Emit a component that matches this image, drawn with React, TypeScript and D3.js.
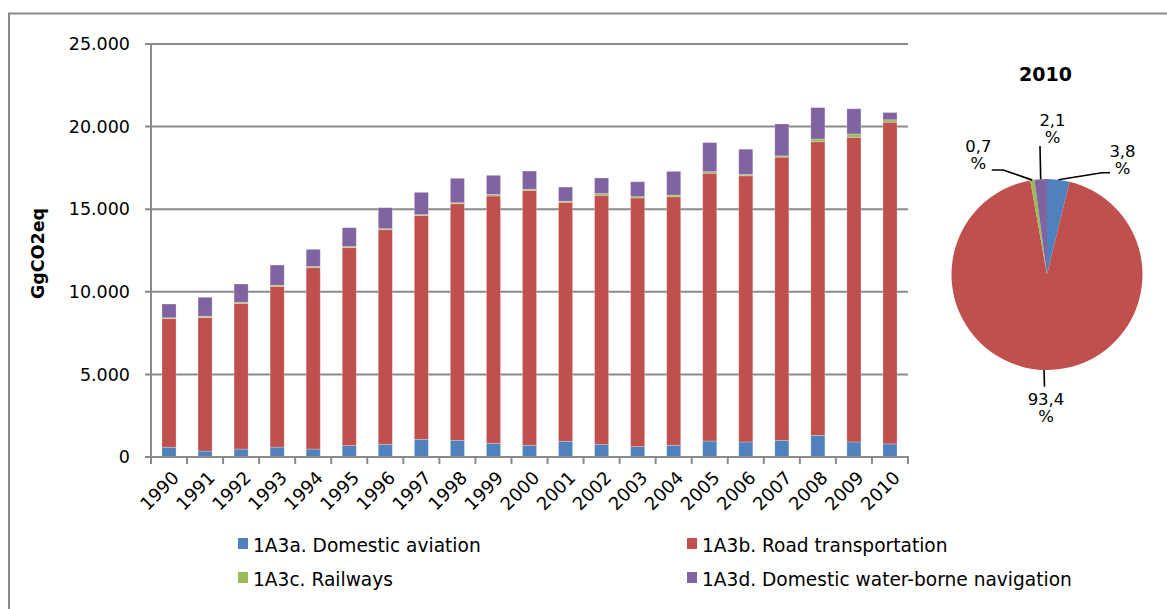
import React from 'react';
import * as d3 from 'd3';

const years = ['1990','1991','1992','1993','1994','1995','1996','1997','1998','1999','2000','2001','2002','2003','2004','2005','2006','2007','2008','2009','2010'];
const seriesNames = ['1A3a. Domestic aviation', '1A3b. Road transportation', '1A3c. Railways', '1A3d. Domestic water-borne navigation'];
const aviation = [590, 360, 480, 600, 480, 690, 770, 1070, 1010, 830, 710, 950, 770, 630, 710, 970, 910, 1010, 1310, 910, 792];
const road = [7780, 8090, 8820, 9730, 10980, 11980, 12990, 13540, 14320, 14970, 15420, 14470, 15070, 15050, 15040, 16210, 16110, 17140, 17770, 18440, 19474];
const railways = [60, 70, 70, 70, 70, 70, 60, 60, 60, 90, 80, 60, 110, 80, 110, 90, 80, 80, 170, 200, 146];
const waterborne = [830, 1150, 1100, 1220, 1040, 1140, 1270, 1350, 1480, 1160, 1100, 860, 940, 900, 1430, 1760, 1530, 1930, 1900, 1530, 438];
const yTicks = [0, 5000, 10000, 15000, 20000, 25000];
const yAxisTitle = 'GgCO2eq';
const pieYear = '2010';

const colors = ['#4F81BD', '#C0504D', '#9BBB59', '#8064A2'];
const FONT = '"DejaVu Sans", Verdana, sans-serif';

const locale = d3.formatLocale({ decimal: ',', thousands: '.', grouping: [3], currency: ['', ''] });
const fmtTick = locale.format(',d');
const fmtPct = locale.format('.1f');

export default function App() {
  const W = 1167, H = 609;
  const left = 151, right = 908, top = 44, bottom = 457;
  const x = d3.scaleBand<string>().domain(years).range([left, right]).paddingInner(0.61).paddingOuter(0.305);
  const y = d3.scaleLinear().domain([0, 25000]).range([bottom, top]);

  const rows = years.map((yr, i) => ({ yr, a: aviation[i], b: road[i], c: railways[i], d: waterborne[i] }));
  const stack = d3.stack<any>().keys(['a', 'b', 'c', 'd'])(rows);

  const step = x.step();
  const boundaries = d3.range(years.length + 1).map(i => left + i * step);

  // pie
  const pi = years.indexOf(pieYear);
  const pieVals = [aviation[pi], road[pi], railways[pi], waterborne[pi]];
  const total = d3.sum(pieVals);
  const cx = 1047, cy = 274.5, R = 95.5;
  const arcs = d3.pie<number>().sort(null)(pieVals);
  const arcGen = d3.arc<any>().innerRadius(0).outerRadius(R);
  const labelLayout = [
    { pts: [[1102, 172.7], [1110, 172.7]], tx: 1122.5, ty: 156.7 },
    { pts: [[1044.5, 386.7]], tx: 1046, ty: 405 },
    { pts: [[1003.3, 170], [991.7, 170]], tx: 978.3, ty: 151.7 },
    { pts: [[1040, 146]], tx: 1052.5, ty: 126 },
  ];

  return (
    <svg width={W} height={H} style={{ display: 'block', fontFamily: FONT }}>
      <style>{`body{margin:0}`}</style>
      <rect x={0} y={0} width={W} height={H} fill="#fff" />
      <rect x={9} y={13.5} width={1300} height={800} fill="none" stroke="#878787" strokeWidth={2} />

      {/* gridlines */}
      {yTicks.map(t => (
        <line key={'g' + t} x1={left - 6} x2={right} y1={y(t)} y2={y(t)} stroke="#8a8a8a" strokeWidth={2} />
      ))}
      {/* y axis */}
      <line x1={left} x2={left} y1={top} y2={bottom} stroke="#8a8a8a" strokeWidth={2} />
      {yTicks.map(t => (
        <text key={'yt' + t} x={130} y={y(t)} dy="0.35em" textAnchor="end" fontSize={17.5} fill="#000">{fmtTick(t)}</text>
      ))}
      <text transform={`translate(44,${(top + bottom) / 2 + 3}) rotate(-90)`} textAnchor="middle" fontSize={17.5} fontWeight="bold" fill="#000">{yAxisTitle}</text>

      {/* bars */}
      {stack.map((s, si) => (
        <g key={'s' + si} fill={colors[si]}>
          {s.map((d, i) => (
            <rect key={i} x={x(years[i])} width={x.bandwidth()} y={y(d[1])} height={Math.max(0, y(d[0]) - y(d[1]))} stroke="rgba(255,255,255,0.3)" strokeWidth={0.8} />
          ))}
        </g>
      ))}

      {/* x axis */}
      <line x1={left - 1} x2={right + 1} y1={bottom} y2={bottom} stroke="#8a8a8a" strokeWidth={2} />
      {boundaries.map((b, i) => (
        <line key={'xt' + i} x1={b} x2={b} y1={bottom} y2={bottom + 7} stroke="#8a8a8a" strokeWidth={2} />
      ))}
      {years.map(yr => {
        const xc = (x(yr) as number) + x.bandwidth() / 2 + 11;
        return (
          <text key={'xl' + yr} transform={`translate(${xc},${bottom + 22}) rotate(-45)`} textAnchor="end" fontSize={18} fill="#000">{yr}</text>
        );
      })}

      {/* legend */}
      {seriesNames.map((n, i) => {
        const lx = i % 2 === 0 ? 238 : 687;
        const ly = i < 2 ? 538 : 572;
        return (
          <g key={'lg' + i}>
            <rect x={lx} y={ly} width={10} height={11} fill={colors[i]} />
            <text x={lx + 15} y={ly + 14} fontSize={18.6} fill="#000">{n}</text>
          </g>
        );
      })}

      {/* pie */}
      <text x={1045.5} y={81} textAnchor="middle" fontSize={19} fontWeight="bold" fill="#000">{pieYear}</text>
      <g transform={`translate(${cx},${cy})`}>
        {arcs.map((a, i) => (
          <path key={'p' + i} d={arcGen(a) as string} fill={colors[i]} />
        ))}
      </g>
      {arcs.map((a, i) => {
        const mid = (a.startAngle + a.endAngle) / 2;
        const sx = cx + R * Math.sin(mid), sy = cy - R * Math.cos(mid);
        const L = labelLayout[i];
        const pts = [[sx, sy], ...L.pts];
        const pct = fmtPct((pieVals[i] / total) * 100);
        return (
          <g key={'pl' + i}>
            <polyline points={pts.map(p => p.join(',')).join(' ')} fill="none" stroke="#000" strokeWidth={1.6} />
            <text x={L.tx} y={L.ty} textAnchor="middle" fontSize={16.5} fill="#000">{pct}</text>
            <text x={L.tx} y={L.ty + 17} textAnchor="middle" fontSize={16.5} fill="#000">%</text>
          </g>
        );
      })}
    </svg>
  );
}
